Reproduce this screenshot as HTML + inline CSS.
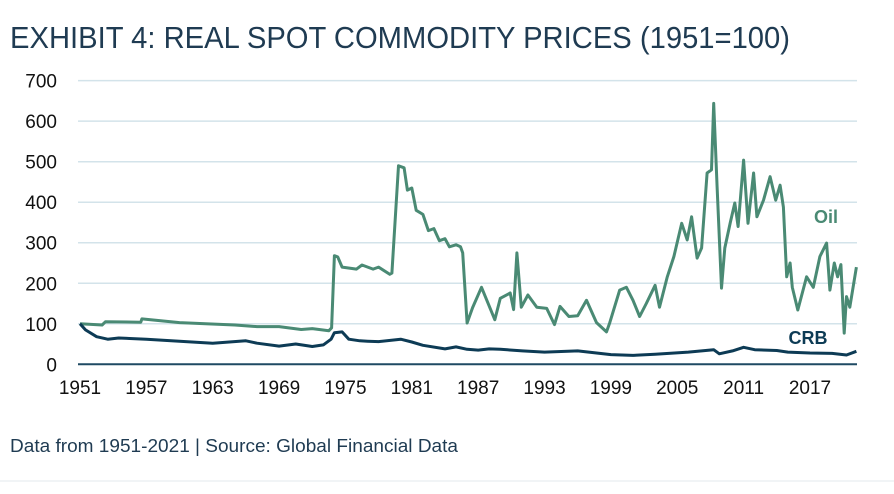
<!DOCTYPE html>
<html><head><meta charset="utf-8"><style>
body{margin:0;background:#fff;}
svg{display:block;font-family:"Liberation Sans",sans-serif;}
</style></head><body>
<svg id="c" width="894" height="494">
<text x="10" y="48" font-size="31" fill="#1f3b52" textLength="780" lengthAdjust="spacingAndGlyphs">EXHIBIT 4: REAL SPOT COMMODITY PRICES (1951=100)</text>
<g id="grid"></g><g id="axes"></g><g id="series"></g>
<text x="826" y="223" font-size="18" font-weight="bold" fill="#4a8a74" text-anchor="middle">Oil</text>
<text x="808" y="344" font-size="18" font-weight="bold" fill="#0d3b55" text-anchor="middle">CRB</text>
<text x="10" y="452" font-size="18" fill="#1f3b52" textLength="448" lengthAdjust="spacingAndGlyphs">Data from 1951-2021 | Source: Global Financial Data</text>
<line x1="0" y1="481" x2="894" y2="481" stroke="#e3e8ec" stroke-width="1"/>
</svg>
<script>
const yTicks=[0,100,200,300,400,500,600,700];
const xTicks=[1951,1957,1963,1969,1975,1981,1987,1993,1999,2005,2011,2017];
const oilYears=[1951,1953,1953.3,1956.5,1956.6,1960,1965,1967,1969,1971,1972,1973.5,1973.75,1974.0,1974.3,1974.7,1976,1976.5,1977.5,1978,1979,1979.2,1979.8,1980.3,1980.6,1981,1981.4,1982,1982.5,1983,1983.5,1984,1984.4,1985,1985.4,1985.6,1986,1986.5,1987.3,1988.5,1989,1989.9,1990.2,1990.5,1990.9,1991.5,1992.3,1993.2,1993.9,1994.4,1995.2,1996,1996.8,1997.7,1998.6,1998.9,1999.8,2000.4,2001,2001.6,2002.2,2003,2003.4,2004.1,2004.7,2005.4,2005.9,2006.3,2006.8,2007.2,2007.7,2008.1,2008.3,2008.6,2009,2009.3,2009.8,2010.2,2010.5,2011,2011.4,2011.9,2012.2,2012.8,2013.4,2013.9,2014.3,2014.6,2014.9,2015.2,2015.4,2015.9,2016.7,2017.3,2017.9,2018.5,2018.8,2019.2,2019.5,2019.8,2020.1,2020.3,2020.6,2021.2];
const oilValues=[100,97,105,104,112,103,97,93,93,86,88,83,90,268,265,240,235,245,235,240,222,225,490,485,430,435,380,370,330,335,305,310,290,295,290,275,102,140,190,110,163,176,135,275,141,171,141,138,98,143,118,120,158,103,80,103,183,190,158,118,150,195,141,216,266,348,307,364,262,287,472,480,644,438,188,287,350,398,340,504,348,472,364,405,463,405,442,388,216,250,190,134,216,190,266,299,183,250,216,246,77,167,141,240];
const crbYears=[1951,1951.5,1952.5,1953.5,1954.5,1957,1960,1963,1966,1967,1969,1970.5,1972,1973,1973.7,1974,1974.7,1975.3,1976.3,1977,1978,1980,1981,1982,1984,1985,1986,1987,1988,1989,1991,1993,1996,1999,2001,2003,2006,2008.3,2008.8,2010,2011,2012,2014,2015,2017,2019,2020.3,2021.2];
const crbValues=[100,85,68,62,65,62,57,52,58,52,45,50,44,48,62,78,80,62,58,57,56,62,55,47,38,43,37,35,38,37,33,30,33,24,22,25,30,36,26,33,42,36,34,30,28,27,23,32];
const NS='http://www.w3.org/2000/svg';
const x0=80,pxPerYear=11.06,y0=364.3,pxPerUnit=0.4052,xL=78,xR=857;
function X(y){return x0+(y-1951)*pxPerYear;}
function Y(v){return y0-v*pxPerUnit;}
const grid=document.getElementById('grid'),axes=document.getElementById('axes'),series=document.getElementById('series');
yTicks.forEach(t=>{
  const l=document.createElementNS(NS,'line');
  l.setAttribute('x1',xL);l.setAttribute('x2',xR);l.setAttribute('y1',Y(t));l.setAttribute('y2',Y(t));
  l.setAttribute('stroke',t===0?'#1f4a63':'#d3e3ea');l.setAttribute('stroke-width',t===0?2:1.5);
  
  
  grid.appendChild(l);
  const tx=document.createElementNS(NS,'text');
  tx.setAttribute('x',57);tx.setAttribute('y',Y(t)+7);tx.setAttribute('text-anchor','end');
  tx.setAttribute('font-size','19');tx.setAttribute('fill','#111');tx.textContent=t;
  
  
  axes.appendChild(tx);
});
xTicks.forEach(t=>{
  const tx=document.createElementNS(NS,'text');
  tx.setAttribute('x',X(t));tx.setAttribute('y',394);tx.setAttribute('text-anchor','middle');
  tx.setAttribute('font-size','19');tx.setAttribute('fill','#111');tx.textContent=t;
  
  
  axes.appendChild(tx);
});
function line(ys,vs,color,name){
  const p=document.createElementNS(NS,'polyline');
  p.setAttribute('points',ys.map((y,i)=>X(y).toFixed(1)+','+Y(vs[i]).toFixed(1)).join(' '));
  p.setAttribute('fill','none');p.setAttribute('stroke',color);p.setAttribute('stroke-width','3');
  p.setAttribute('stroke-linejoin','round');
  
  
  series.appendChild(p);
}
line(oilYears,oilValues,'#4a8a74','oil-line');
line(crbYears,crbValues,'#0d3b55','crb-line');
</script>
</body></html>
